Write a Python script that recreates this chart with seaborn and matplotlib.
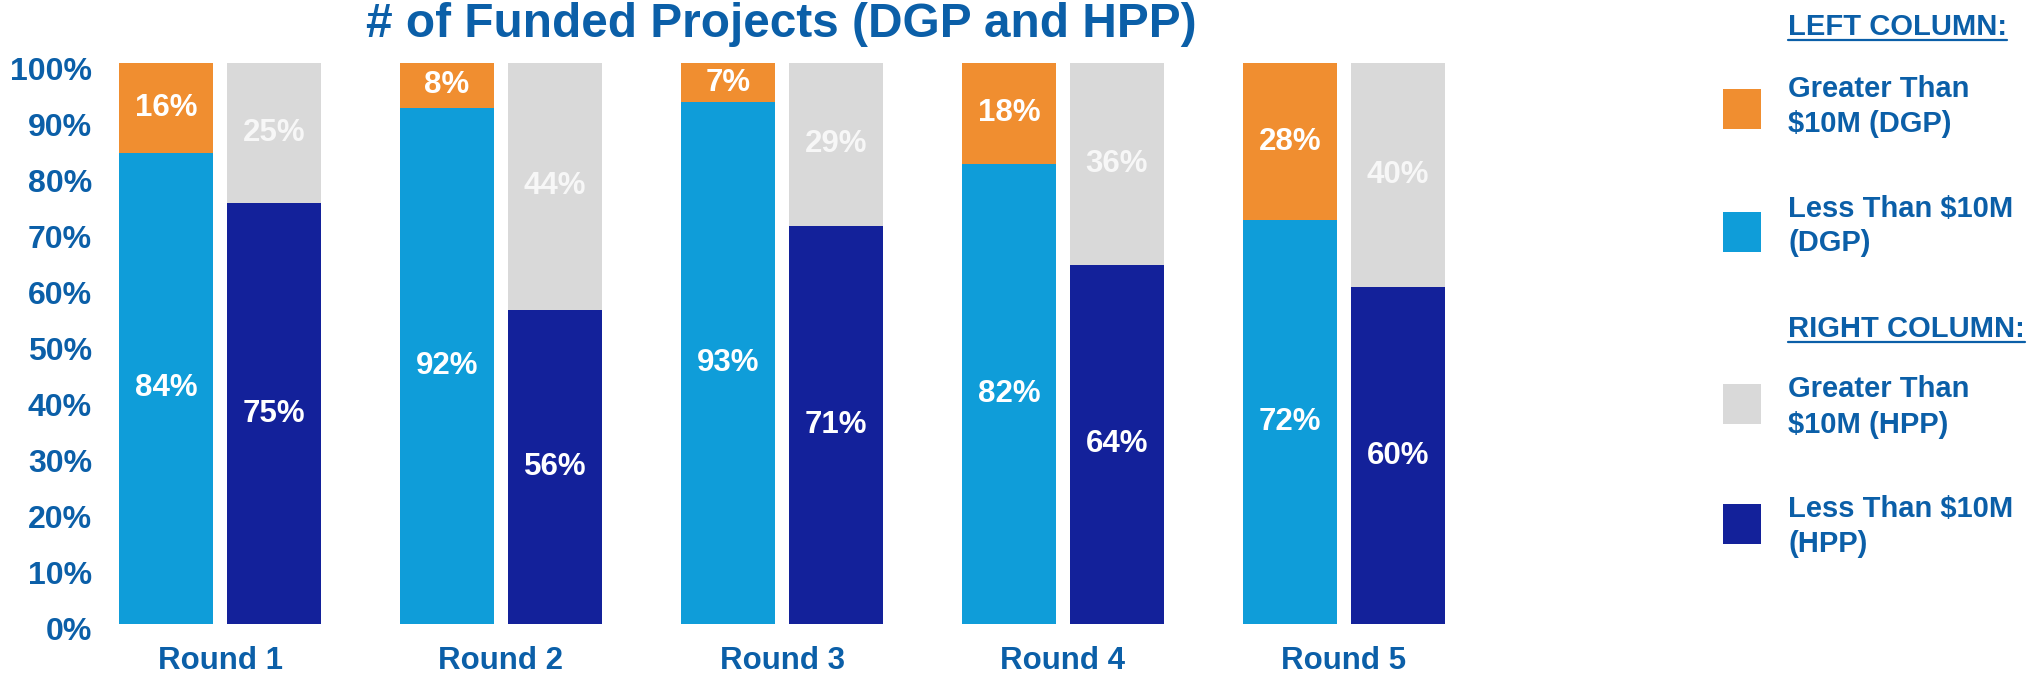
import numpy as np
import pandas as pd
import matplotlib
matplotlib.use("Agg")
import matplotlib.pyplot as plt
import matplotlib.transforms as mtransforms
from matplotlib.patches import Rectangle
from matplotlib.lines import Line2D
import seaborn as sns

# ---- data (share of funded projects, %) ----
rounds = ["Round 1", "Round 2", "Round 3", "Round 4", "Round 5"]
dgp_under_10m = [84, 92, 93, 82, 72]   # left column, lower segment
dgp_over_10m = [16, 8, 7, 18, 28]      # left column, upper segment
hpp_under_10m = [75, 56, 71, 64, 60]   # right column, lower segment
hpp_over_10m = [25, 44, 29, 36, 40]    # right column, upper segment
y_ticks = [0, 10, 20, 30, 40, 50, 60, 70, 80, 90, 100]

title = "# of Funded Projects (DGP and HPP)"
columns = ["DGP", "HPP"]

ORANGE = "#F08E30"
LIGHT_BLUE = "#0F9DD9"
GREY = "#D9D9D9"
NAVY = "#13219A"
TEXT_BLUE = "#0B5FA8"

sns.set_theme(style="white")
plt.rcParams["font.family"] = ["Liberation Sans", "DejaVu Sans"]
plt.rcParams["font.weight"] = "bold"

W, H = 2028, 678
fig = plt.figure(figsize=(W / 100, H / 100), dpi=100)

def fx(px):
    return px / W

def fy(py):
    return 1 - py / H

# axes: group centres at 220 + 281*i px, 0% at y=624 px, 100% at y=63 px
ax = fig.add_axes([fx(79.5), fy(624), fx(1405), (624 - 63) / H])

lower = pd.DataFrame({
    "round": rounds * 2,
    "column": ["DGP"] * 5 + ["HPP"] * 5,
    "value": dgp_under_10m + hpp_under_10m,
})
upper = pd.DataFrame({
    "round": rounds * 2,
    "column": ["DGP"] * 5 + ["HPP"] * 5,
    "value": dgp_over_10m + hpp_over_10m,
})
total = lower.copy()
total["value"] = lower["value"].values + upper["value"].values

bar_kw = dict(x="round", y="value", hue="column", hue_order=columns,
              order=rounds, width=0.768, gap=0.13, saturation=1,
              errorbar=None, legend=False, ax=ax, linewidth=0)

# full-height bars in the "greater than" colour, then the lower part on top
sns.barplot(data=total, palette={"DGP": ORANGE, "HPP": GREY}, **bar_kw)
sns.barplot(data=lower, palette={"DGP": LIGHT_BLUE, "HPP": NAVY}, **bar_kw)

ax.set_xlim(-0.5, 4.5)
ax.set_ylim(0, 100)

# segment value labels
offset = 0.192
for i in range(len(rounds)):
    for sign, lo, up in ((-1, dgp_under_10m[i], dgp_over_10m[i]),
                         (1, hpp_under_10m[i], hpp_over_10m[i])):
        xc = i + sign * offset
        ax.text(xc, lo / 2, f"{lo}%", ha="center", va="center",
                color="white", fontsize=22.5, fontweight="bold")
        up_color = "white" if sign < 0 else "#F7F7F7"
        ax.text(xc, lo + up / 2, f"{up}%", ha="center", va="center",
                color=up_color, fontsize=22.5, fontweight="bold")

# axes styling
for s in ax.spines.values():
    s.set_visible(False)
ax.grid(False)
ax.set_xlabel("")
ax.set_ylabel("")
ax.set_yticks(y_ticks)
ax.set_yticklabels([f"{v}%" for v in y_ticks])
ax.tick_params(axis="y", length=0, pad=-9, labelsize=23, labelcolor=TEXT_BLUE)
ax.tick_params(axis="x", length=0, pad=16, labelsize=22.5, labelcolor=TEXT_BLUE)
for lab in ax.get_yticklabels() + ax.get_xticklabels():
    lab.set_fontweight("bold")
shift = mtransforms.ScaledTranslation(0, -5 / 100, fig.dpi_scale_trans)
for lab in ax.get_yticklabels():
    lab.set_transform(lab.get_transform() + shift)

# title along the top edge
fig.text(fx(781), fy(37), title, ha="center", va="baseline",
         fontsize=34.4, fontweight="bold", color=TEXT_BLUE)

# legend panel
text_x = fx(1788)
heading_kw = dict(ha="left", va="baseline", fontsize=21, fontweight="bold",
                  color=TEXT_BLUE)
item_kw = dict(ha="left", va="baseline", fontsize=21, fontweight="bold",
               color=TEXT_BLUE)

headings = [("LEFT COLUMN:", 35, 40), ("RIGHT COLUMN:", 337, 342)]
heading_artists = []
for txt, base, uline in headings:
    t = fig.text(text_x, fy(base), txt, **heading_kw)
    heading_artists.append((t, uline))

items = [
    (ORANGE, 89, ["Greater Than", "$10M (DGP)"], [97, 132]),
    (LIGHT_BLUE, 212, ["Less Than $10M", "(DGP)"], [217, 251]),
    (GREY, 384, ["Greater Than", "$10M (HPP)"], [397, 433]),
    (NAVY, 504, ["Less Than $10M", "(HPP)"], [517, 552]),
]
for color, top, lines, bases in items:
    fig.patches.append(Rectangle((fx(1723), fy(top + 40)), fx(38), 40 / H,
                                 transform=fig.transFigure, facecolor=color,
                                 edgecolor="none"))
    for line, base in zip(lines, bases):
        fig.text(text_x, fy(base), line, **item_kw)

# underline the column headings
fig.canvas.draw()
renderer = fig.canvas.get_renderer()
for t, uline in heading_artists:
    bb = t.get_window_extent(renderer)
    x0, x1 = bb.x0 / W, bb.x1 / W
    fig.lines.append(Line2D([x0, x1], [fy(uline), fy(uline)],
                            transform=fig.transFigure, color=TEXT_BLUE,
                            linewidth=1.6))

fig.savefig("out.png", dpi=100, facecolor="white")
